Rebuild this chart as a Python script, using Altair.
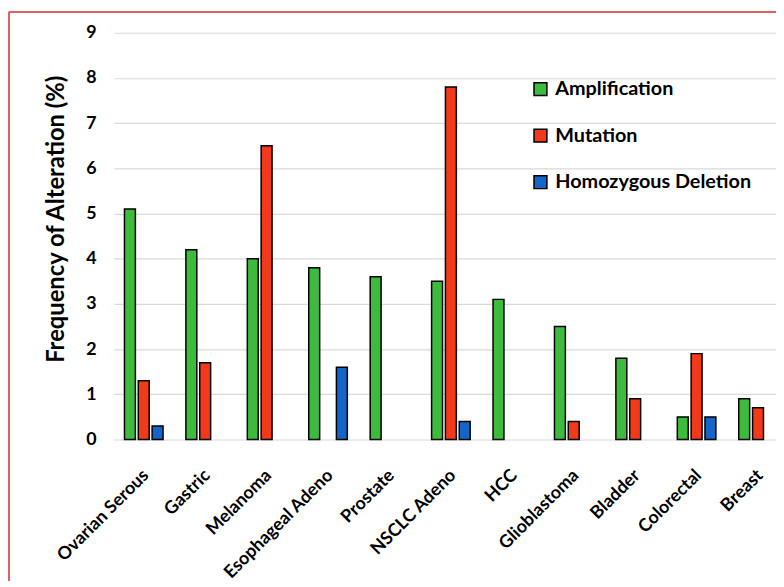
import altair as alt
import pandas as pd

categories = ["Ovarian Serous", "Gastric", "Melanoma", "Esophageal Adeno", "Prostate",
              "NSCLC Adeno", "HCC", "Glioblastoma", "Bladder", "Colorectal", "Breast"]
series = ["Amplification", "Mutation", "Homozygous Deletion"]
amplification = [5.1, 4.2, 4.0, 3.8, 3.6, 3.5, 3.1, 2.5, 1.8, 0.5, 0.9]
mutation = [1.3, 1.7, 6.5, 0, 0, 7.8, 0, 0.4, 0.9, 1.9, 0.7]
deletion = [0.3, 0, 0, 1.6, 0, 0.4, 0, 0, 0, 0.5, 0]
colors = ["#3dbb3d", "#f23a1a", "#1565c8"]

rows = []
for s, vals in zip(series, [amplification, mutation, deletion]):
    for c, v in zip(categories, vals):
        if v > 0:
            rows.append({"Cancer": c, "Alteration": s, "Value": v})
df = pd.DataFrame(rows)

FONT = "Lato"

bars = alt.Chart(df).mark_bar(stroke="black", strokeWidth=1.5).encode(
    x=alt.X("Cancer:N", sort=categories, title=None,
            scale=alt.Scale(domain=categories, range=[0, 681], paddingInner=0.372, paddingOuter=0.172),
            axis=alt.Axis(labelAngle=-45, labelFont=FONT, labelFontWeight="bold", labelFontSize=18,
                          labelColor="black", labelPadding=27, labelOffset=-4, ticks=False, domain=False,
                          grid=False, labelLimit=300)),
    xOffset=alt.XOffset("Alteration:N", sort=series,
                        scale=alt.Scale(domain=series, paddingInner=0.21, paddingOuter=0)),
    y=alt.Y("Value:Q", title="Frequency of Alteration (%)",
            scale=alt.Scale(domain=[0, 9], nice=False),
            axis=alt.Axis(values=list(range(10)), labelFont=FONT, labelFontWeight="bold", labelFontSize=18,
                          labelColor="black", labelPadding=18, ticks=False, domain=False,
                          gridColor="#d9d9d9", gridWidth=1.2,
                          titleFont=FONT, titleFontWeight="bold", titleFontSize=24, titleColor="black",
                          titlePadding=17, titleY=188)),
    color=alt.Color("Alteration:N", sort=series,
                    scale=alt.Scale(domain=series, range=colors),
                    legend=alt.Legend(title=None, orient="none", legendX=421, legendY=47,
                                      symbolType="square", symbolSize=170, symbolStrokeColor="black",
                                      symbolStrokeWidth=1.5, symbolOpacity=1,
                                      labelFont=FONT, labelFontWeight="bold", labelFontSize=20,
                                      labelColor="black", labelOffset=5, rowPadding=27,
                                      labelLimit=400)),
)

border_left = alt.Chart(df).mark_rule(color="#dc6464", strokeWidth=2).encode(
    x=alt.value(-106), y=alt.value(-21), y2=alt.value(560))
border_top = alt.Chart(df).mark_rule(color="#dc6464", strokeWidth=2).encode(
    x=alt.value(-106), x2=alt.value(700), y=alt.value(-21))

chart = alt.layer(bars, border_left, border_top).properties(
    width=669, height=411,
    autosize=alt.AutoSizeParams(type="none"),
    padding={"left": 107, "top": 22, "right": 0, "bottom": 140},
    background="white",
).configure_view(stroke=None)

chart.save("out.html", embed_options={"renderer": "svg", "actions": False})
